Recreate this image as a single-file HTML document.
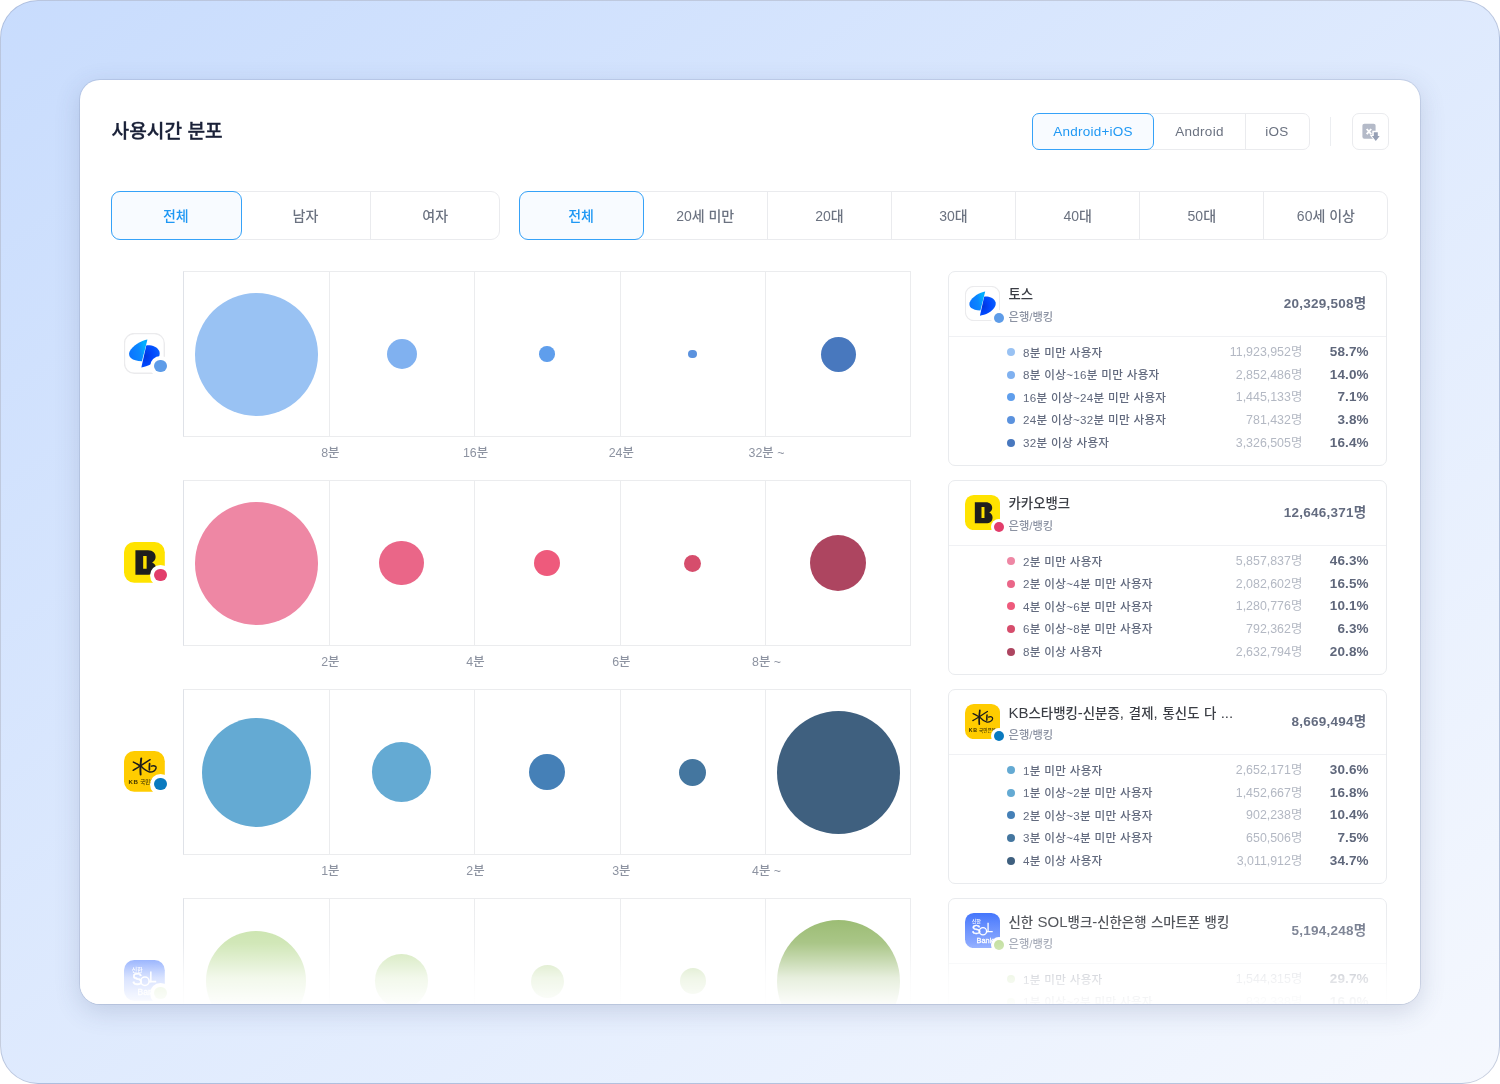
<!DOCTYPE html>
<html lang="ko"><head><meta charset="utf-8"><title>사용시간 분포</title>
<style>
html,body{margin:0;padding:0;background:#fff;}
body{width:1500px;height:1084px;overflow:hidden;position:relative;font-family:"Liberation Sans","Noto Sans CJK KR",sans-serif;}
.frame{position:absolute;left:0;top:0;width:1500px;height:1084px;box-sizing:border-box;border-radius:38px;border:1px solid rgba(140,152,185,.45);background:linear-gradient(to bottom right,#c8dcfd,#f5f8fe);}
.card{position:absolute;left:80px;top:80px;width:1340px;height:924px;border-radius:20px;background:#fff;overflow:hidden;box-shadow:0 7px 26px rgba(60,75,115,.19),0 0 0 1px rgba(140,155,190,.26);}
.inner{position:absolute;left:-80px;top:-80px;width:1500px;height:1084px;}
.b{position:absolute;display:block;}
.c{border-radius:50%;}
.t{position:absolute;white-space:nowrap;}
.l{font-size:15px;}
.fade{position:absolute;left:0;top:824px;width:1340px;height:100px;background:linear-gradient(to bottom,rgba(255,255,255,0) 0%,rgba(255,255,255,.12) 17%,rgba(255,255,255,.24) 39%,rgba(255,255,255,.5) 56%,rgba(255,255,255,.79) 74%,rgba(255,255,255,.9) 90%,rgba(255,255,255,.95) 97%,rgba(255,255,255,.97) 100%);}
</style></head><body>
<div class="frame"></div>
<div class="card"><div class="inner">
<div class="t" style="top:121.50px;height:20px;line-height:20px;font-size:19.2px;font-weight:500;color:#1a2138;left:111.50px;-webkit-text-stroke:0.3px #1a2138;">사용시간 분포</div>
<div class="b" style="left:1032.00px;top:113.00px;width:278.00px;height:37.00px;border:1px solid #eaebee;border-radius:7px;box-sizing:border-box;"></div>
<div class="b" style="left:1245.00px;top:114.00px;width:1.00px;height:35.00px;background:#eaebee;"></div>
<div class="b" style="left:1032.00px;top:113.00px;width:122.00px;height:37.00px;border:1.5px solid #36a2f8;border-radius:7px;box-sizing:border-box;background:#f8fbff;"></div>
<div class="t" style="top:121.50px;height:20px;line-height:20px;font-size:13.5px;font-weight:400;color:#1f98f4;letter-spacing:0.25px;left:1093.00px;transform:translateX(-50%);">Android+iOS</div>
<div class="t" style="top:121.50px;height:20px;line-height:20px;font-size:13.5px;font-weight:400;color:#6b7280;letter-spacing:0.25px;left:1199.50px;transform:translateX(-50%);">Android</div>
<div class="t" style="top:121.50px;height:20px;line-height:20px;font-size:13.5px;font-weight:400;color:#6b7280;letter-spacing:0.25px;left:1277.00px;transform:translateX(-50%);">iOS</div>
<div class="b" style="left:1330.00px;top:117.00px;width:1.00px;height:29.00px;background:#eceef1;"></div>
<div class="b" style="left:1352.00px;top:113.00px;width:37.00px;height:37.00px;border:1px solid #eaebee;border-radius:7px;box-sizing:border-box;"></div>
<svg class="b" style="left:1360px;top:121px" width="22" height="22" viewBox="0 0 22 22">
<rect x="2.4" y="2.8" width="13.2" height="15" rx="2" fill="#b4bac8"/>
<path d="M6.7 8 L11.2 13.2 M11.2 8 L6.7 13.2" stroke="#fff" stroke-width="1.9"/>
<path d="M12.3 9.8 H19.3 V13.8 H22 L15.8 21.6 L9.6 13.8 H12.3 Z" fill="#fff"/>
<path d="M13.8 11.2 H17.8 V15 H19.7 L15.8 20 L11.9 15 H13.8 Z" fill="#96a0b5"/>
</svg>
<div class="b" style="left:111.00px;top:191.00px;width:389.00px;height:49.00px;border:1px solid #eaebee;border-radius:9px;box-sizing:border-box;"></div>
<div class="b" style="left:370.00px;top:192.00px;width:1.00px;height:47.00px;background:#eaebee;"></div>
<div class="b" style="left:111.00px;top:191.00px;width:131.00px;height:49.00px;border:1.5px solid #36a2f8;border-radius:9px;box-sizing:border-box;background:#f8fbff;"></div>
<div class="t" style="top:205.50px;height:20px;line-height:20px;font-size:14px;font-weight:500;color:#1f98f4;left:175.83px;transform:translateX(-50%);">전체</div>
<div class="t" style="top:205.50px;height:20px;line-height:20px;font-size:14px;font-weight:500;color:#6b7280;left:305.50px;transform:translateX(-50%);">남자</div>
<div class="t" style="top:205.50px;height:20px;line-height:20px;font-size:14px;font-weight:500;color:#6b7280;left:435.17px;transform:translateX(-50%);">여자</div>
<div class="b" style="left:519.00px;top:191.00px;width:869.00px;height:49.00px;border:1px solid #eaebee;border-radius:9px;box-sizing:border-box;"></div>
<div class="b" style="left:767.00px;top:192.00px;width:1.00px;height:47.00px;background:#eaebee;"></div>
<div class="b" style="left:891.00px;top:192.00px;width:1.00px;height:47.00px;background:#eaebee;"></div>
<div class="b" style="left:1015.00px;top:192.00px;width:1.00px;height:47.00px;background:#eaebee;"></div>
<div class="b" style="left:1139.00px;top:192.00px;width:1.00px;height:47.00px;background:#eaebee;"></div>
<div class="b" style="left:1263.00px;top:192.00px;width:1.00px;height:47.00px;background:#eaebee;"></div>
<div class="b" style="left:519.00px;top:191.00px;width:125.00px;height:49.00px;border:1.5px solid #36a2f8;border-radius:9px;box-sizing:border-box;background:#f8fbff;"></div>
<div class="t" style="top:205.50px;height:20px;line-height:20px;font-size:14px;font-weight:500;color:#1f98f4;left:581.07px;transform:translateX(-50%);">전체</div>
<div class="t" style="top:205.50px;height:20px;line-height:20px;font-size:14px;font-weight:500;color:#6b7280;left:705.21px;transform:translateX(-50%);">20세 미만</div>
<div class="t" style="top:205.50px;height:20px;line-height:20px;font-size:14px;font-weight:500;color:#6b7280;left:829.36px;transform:translateX(-50%);">20대</div>
<div class="t" style="top:205.50px;height:20px;line-height:20px;font-size:14px;font-weight:500;color:#6b7280;left:953.50px;transform:translateX(-50%);">30대</div>
<div class="t" style="top:205.50px;height:20px;line-height:20px;font-size:14px;font-weight:500;color:#6b7280;left:1077.64px;transform:translateX(-50%);">40대</div>
<div class="t" style="top:205.50px;height:20px;line-height:20px;font-size:14px;font-weight:500;color:#6b7280;left:1201.79px;transform:translateX(-50%);">50대</div>
<div class="t" style="top:205.50px;height:20px;line-height:20px;font-size:14px;font-weight:500;color:#6b7280;left:1325.93px;transform:translateX(-50%);">60세 이상</div>
<svg class="b" style="left:124px;top:333px" width="40.8" height="40.8" viewBox="0 0 40 40">
<defs><linearGradient id="tg1a" x1="0" y1="0.6" x2="1" y2="0.35"><stop offset="0" stop-color="#0a74ff"/><stop offset="0.55" stop-color="#0a88ff"/><stop offset="0.88" stop-color="#00b2ff"/><stop offset="1" stop-color="#00a6ff"/></linearGradient>
<radialGradient id="tg2a" cx="0.22" cy="0.5" r="0.85"><stop offset="0" stop-color="#0036de"/><stop offset="0.45" stop-color="#0046fc"/><stop offset="1" stop-color="#0a62ff"/></radialGradient></defs>
<rect x="0.5" y="0.5" width="39" height="39" rx="9.6" fill="#fff" stroke="#ebebed" stroke-width="1.3"/>
<path d="M21.8 12.2 C26 11.6 33 13 34.8 18.5 C36 23 32 27.5 27 30.5 C23.5 32.5 19.5 33.6 17 33.8 Z" fill="url(#tg2a)"/>
<path d="M23 6.4 C17 7.2 8 12.5 5.4 18.5 C3.6 23.5 7.5 27.5 17.6 27.8 Z" fill="url(#tg1a)"/>
</svg>
<div class="b c" style="left:150.00px;top:355.50px;width:21.00px;height:21.00px;background:#fff;"></div>
<div class="b c" style="left:154.25px;top:359.75px;width:12.50px;height:12.50px;background:#5e9ce8;"></div>
<div class="b" style="left:183.00px;top:271.00px;width:728.00px;height:166.00px;border:1px solid #ebecee;border-left-color:#dfe2e8;box-sizing:border-box;"></div>
<div class="b" style="left:329.00px;top:272.00px;width:1.00px;height:164.00px;background:#ebecee;"></div>
<div class="b" style="left:474.00px;top:272.00px;width:1.00px;height:164.00px;background:#ebecee;"></div>
<div class="b" style="left:620.00px;top:272.00px;width:1.00px;height:164.00px;background:#ebecee;"></div>
<div class="b" style="left:765.00px;top:272.00px;width:1.00px;height:164.00px;background:#ebecee;"></div>
<div class="b c" style="left:194.50px;top:292.50px;width:123.00px;height:123.00px;background:#99c2f3;"></div>
<div class="b c" style="left:386.50px;top:339.00px;width:30.00px;height:30.00px;background:#80b1f0;"></div>
<div class="b c" style="left:539.25px;top:346.25px;width:15.50px;height:15.50px;background:#5f9eec;"></div>
<div class="b c" style="left:688.25px;top:349.75px;width:8.50px;height:8.50px;background:#5b92de;"></div>
<div class="b c" style="left:820.50px;top:336.50px;width:35.00px;height:35.00px;background:#4878be;"></div>
<div class="t" style="top:442.50px;height:20px;line-height:20px;font-size:12.4px;font-weight:500;color:#8d93a1;left:330.30px;transform:translateX(-50%);">8분</div>
<div class="t" style="top:442.50px;height:20px;line-height:20px;font-size:12.4px;font-weight:500;color:#8d93a1;left:475.50px;transform:translateX(-50%);">16분</div>
<div class="t" style="top:442.50px;height:20px;line-height:20px;font-size:12.4px;font-weight:500;color:#8d93a1;left:621.30px;transform:translateX(-50%);">24분</div>
<div class="t" style="top:442.50px;height:20px;line-height:20px;font-size:12.4px;font-weight:500;color:#8d93a1;left:766.50px;transform:translateX(-50%);">32분 ~</div>
<div class="b" style="left:948.00px;top:271.00px;width:438.50px;height:195.00px;border:1px solid #e9ebee;border-radius:7px;box-sizing:border-box;"></div>
<div class="b" style="left:949.00px;top:336.00px;width:436.50px;height:1.00px;background:#f0f1f4;"></div>
<svg class="b" style="left:965px;top:286.4px" width="35.1" height="35.1" viewBox="0 0 40 40">
<defs><linearGradient id="tg1b" x1="0" y1="0.6" x2="1" y2="0.35"><stop offset="0" stop-color="#0a74ff"/><stop offset="0.55" stop-color="#0a88ff"/><stop offset="0.88" stop-color="#00b2ff"/><stop offset="1" stop-color="#00a6ff"/></linearGradient>
<radialGradient id="tg2b" cx="0.22" cy="0.5" r="0.85"><stop offset="0" stop-color="#0036de"/><stop offset="0.45" stop-color="#0046fc"/><stop offset="1" stop-color="#0a62ff"/></radialGradient></defs>
<rect x="0.5" y="0.5" width="39" height="39" rx="9.6" fill="#fff" stroke="#ebebed" stroke-width="1.3"/>
<path d="M21.8 12.2 C26 11.6 33 13 34.8 18.5 C36 23 32 27.5 27 30.5 C23.5 32.5 19.5 33.6 17 33.8 Z" fill="url(#tg2b)"/>
<path d="M23 6.4 C17 7.2 8 12.5 5.4 18.5 C3.6 23.5 7.5 27.5 17.6 27.8 Z" fill="url(#tg1b)"/>
</svg>
<div class="b c" style="left:990.85px;top:309.85px;width:16.30px;height:16.30px;background:#fff;"></div>
<div class="b c" style="left:993.75px;top:312.75px;width:10.50px;height:10.50px;background:#5e9ce8;"></div>
<div class="t" style="top:285.00px;height:20px;line-height:20px;font-size:13.4px;font-weight:500;color:#3a3d44;left:1008.50px;word-spacing:0.7px;">토스</div>
<div class="t" style="top:307.00px;height:20px;line-height:20px;font-size:11.3px;font-weight:500;color:#8b92a2;left:1008.50px;">은행/뱅킹</div>
<div class="t" style="top:294.00px;height:20px;line-height:20px;font-size:13.5px;font-weight:700;color:#646c80;letter-spacing:0.25px;right:133.50px;">20,329,508명</div>
<div class="b c" style="left:1006.70px;top:348.20px;width:8.00px;height:8.00px;background:#99c2f3;"></div>
<div class="t" style="top:342.50px;height:20px;line-height:20px;font-size:11.6px;font-weight:500;color:#626a7e;letter-spacing:0.3px;left:1023.00px;">8분 미만 사용자</div>
<div class="t" style="top:342.20px;height:20px;line-height:20px;font-size:12.4px;font-weight:400;color:#b3b8c3;right:197.70px;">11,923,952명</div>
<div class="t" style="top:342.20px;height:20px;line-height:20px;font-size:13.5px;font-weight:700;color:#5f677b;letter-spacing:0.1px;right:131.40px;">58.7%</div>
<div class="b c" style="left:1006.70px;top:370.80px;width:8.00px;height:8.00px;background:#80b1f0;"></div>
<div class="t" style="top:365.10px;height:20px;line-height:20px;font-size:11.6px;font-weight:500;color:#626a7e;letter-spacing:0.3px;left:1023.00px;">8분 이상~16분 미만 사용자</div>
<div class="t" style="top:364.80px;height:20px;line-height:20px;font-size:12.4px;font-weight:400;color:#b3b8c3;right:197.70px;">2,852,486명</div>
<div class="t" style="top:364.80px;height:20px;line-height:20px;font-size:13.5px;font-weight:700;color:#5f677b;letter-spacing:0.1px;right:131.40px;">14.0%</div>
<div class="b c" style="left:1006.70px;top:393.40px;width:8.00px;height:8.00px;background:#5f9eec;"></div>
<div class="t" style="top:387.70px;height:20px;line-height:20px;font-size:11.6px;font-weight:500;color:#626a7e;letter-spacing:0.3px;left:1023.00px;">16분 이상~24분 미만 사용자</div>
<div class="t" style="top:387.40px;height:20px;line-height:20px;font-size:12.4px;font-weight:400;color:#b3b8c3;right:197.70px;">1,445,133명</div>
<div class="t" style="top:387.40px;height:20px;line-height:20px;font-size:13.5px;font-weight:700;color:#5f677b;letter-spacing:0.1px;right:131.40px;">7.1%</div>
<div class="b c" style="left:1006.70px;top:416.00px;width:8.00px;height:8.00px;background:#5b92de;"></div>
<div class="t" style="top:410.30px;height:20px;line-height:20px;font-size:11.6px;font-weight:500;color:#626a7e;letter-spacing:0.3px;left:1023.00px;">24분 이상~32분 미만 사용자</div>
<div class="t" style="top:410.00px;height:20px;line-height:20px;font-size:12.4px;font-weight:400;color:#b3b8c3;right:197.70px;">781,432명</div>
<div class="t" style="top:410.00px;height:20px;line-height:20px;font-size:13.5px;font-weight:700;color:#5f677b;letter-spacing:0.1px;right:131.40px;">3.8%</div>
<div class="b c" style="left:1006.70px;top:438.60px;width:8.00px;height:8.00px;background:#4878be;"></div>
<div class="t" style="top:432.90px;height:20px;line-height:20px;font-size:11.6px;font-weight:500;color:#626a7e;letter-spacing:0.3px;left:1023.00px;">32분 이상 사용자</div>
<div class="t" style="top:432.60px;height:20px;line-height:20px;font-size:12.4px;font-weight:400;color:#b3b8c3;right:197.70px;">3,326,505명</div>
<div class="t" style="top:432.60px;height:20px;line-height:20px;font-size:13.5px;font-weight:700;color:#5f677b;letter-spacing:0.1px;right:131.40px;">16.4%</div>
<svg class="b" style="left:124px;top:542px" width="40.8" height="40.8" viewBox="0 0 40 40">
<rect width="40" height="40" rx="10" fill="#ffe300"/>
<path d="M11.2 8.2 H23.5 C28.5 8.2 31 11.2 31 14.6 C31 17.2 29.6 19 27.6 20 C30 21 31.4 23 31.4 25.6 C31.4 29.6 28.6 32.2 24 32.2 H11.2 Z M18.8 13.8 V26.2 H22.2 V13.8 Z" fill="#1e1e1e" fill-rule="evenodd"/>
</svg>
<div class="b c" style="left:150.00px;top:564.50px;width:21.00px;height:21.00px;background:#fff;"></div>
<div class="b c" style="left:154.25px;top:568.75px;width:12.50px;height:12.50px;background:#e23d6b;"></div>
<div class="b" style="left:183.00px;top:480.00px;width:728.00px;height:166.00px;border:1px solid #ebecee;border-left-color:#dfe2e8;box-sizing:border-box;"></div>
<div class="b" style="left:329.00px;top:481.00px;width:1.00px;height:164.00px;background:#ebecee;"></div>
<div class="b" style="left:474.00px;top:481.00px;width:1.00px;height:164.00px;background:#ebecee;"></div>
<div class="b" style="left:620.00px;top:481.00px;width:1.00px;height:164.00px;background:#ebecee;"></div>
<div class="b" style="left:765.00px;top:481.00px;width:1.00px;height:164.00px;background:#ebecee;"></div>
<div class="b c" style="left:194.50px;top:501.50px;width:123.00px;height:123.00px;background:#ee87a4;"></div>
<div class="b c" style="left:379.35px;top:540.85px;width:44.30px;height:44.30px;background:#ea6688;"></div>
<div class="b c" style="left:533.80px;top:549.80px;width:26.40px;height:26.40px;background:#ee5a7c;"></div>
<div class="b c" style="left:684.00px;top:554.50px;width:17.00px;height:17.00px;background:#d64d6c;"></div>
<div class="b c" style="left:810.00px;top:535.00px;width:56.00px;height:56.00px;background:#ad4560;"></div>
<div class="t" style="top:651.50px;height:20px;line-height:20px;font-size:12.4px;font-weight:500;color:#8d93a1;left:330.30px;transform:translateX(-50%);">2분</div>
<div class="t" style="top:651.50px;height:20px;line-height:20px;font-size:12.4px;font-weight:500;color:#8d93a1;left:475.50px;transform:translateX(-50%);">4분</div>
<div class="t" style="top:651.50px;height:20px;line-height:20px;font-size:12.4px;font-weight:500;color:#8d93a1;left:621.30px;transform:translateX(-50%);">6분</div>
<div class="t" style="top:651.50px;height:20px;line-height:20px;font-size:12.4px;font-weight:500;color:#8d93a1;left:766.50px;transform:translateX(-50%);">8분 ~</div>
<div class="b" style="left:948.00px;top:480.00px;width:438.50px;height:195.00px;border:1px solid #e9ebee;border-radius:7px;box-sizing:border-box;"></div>
<div class="b" style="left:949.00px;top:545.00px;width:436.50px;height:1.00px;background:#f0f1f4;"></div>
<svg class="b" style="left:965px;top:495.4px" width="35.1" height="35.1" viewBox="0 0 40 40">
<rect width="40" height="40" rx="10" fill="#ffe300"/>
<path d="M11.2 8.2 H23.5 C28.5 8.2 31 11.2 31 14.6 C31 17.2 29.6 19 27.6 20 C30 21 31.4 23 31.4 25.6 C31.4 29.6 28.6 32.2 24 32.2 H11.2 Z M18.8 13.8 V26.2 H22.2 V13.8 Z" fill="#1e1e1e" fill-rule="evenodd"/>
</svg>
<div class="b c" style="left:990.85px;top:518.85px;width:16.30px;height:16.30px;background:#fff;"></div>
<div class="b c" style="left:993.75px;top:521.75px;width:10.50px;height:10.50px;background:#e23d6b;"></div>
<div class="t" style="top:494.00px;height:20px;line-height:20px;font-size:13.4px;font-weight:500;color:#3a3d44;left:1008.50px;word-spacing:0.7px;">카카오뱅크</div>
<div class="t" style="top:516.00px;height:20px;line-height:20px;font-size:11.3px;font-weight:500;color:#8b92a2;left:1008.50px;">은행/뱅킹</div>
<div class="t" style="top:503.00px;height:20px;line-height:20px;font-size:13.5px;font-weight:700;color:#646c80;letter-spacing:0.25px;right:133.50px;">12,646,371명</div>
<div class="b c" style="left:1006.70px;top:557.20px;width:8.00px;height:8.00px;background:#ee87a4;"></div>
<div class="t" style="top:551.50px;height:20px;line-height:20px;font-size:11.6px;font-weight:500;color:#626a7e;letter-spacing:0.3px;left:1023.00px;">2분 미만 사용자</div>
<div class="t" style="top:551.20px;height:20px;line-height:20px;font-size:12.4px;font-weight:400;color:#b3b8c3;right:197.70px;">5,857,837명</div>
<div class="t" style="top:551.20px;height:20px;line-height:20px;font-size:13.5px;font-weight:700;color:#5f677b;letter-spacing:0.1px;right:131.40px;">46.3%</div>
<div class="b c" style="left:1006.70px;top:579.80px;width:8.00px;height:8.00px;background:#ea6688;"></div>
<div class="t" style="top:574.10px;height:20px;line-height:20px;font-size:11.6px;font-weight:500;color:#626a7e;letter-spacing:0.3px;left:1023.00px;">2분 이상~4분 미만 사용자</div>
<div class="t" style="top:573.80px;height:20px;line-height:20px;font-size:12.4px;font-weight:400;color:#b3b8c3;right:197.70px;">2,082,602명</div>
<div class="t" style="top:573.80px;height:20px;line-height:20px;font-size:13.5px;font-weight:700;color:#5f677b;letter-spacing:0.1px;right:131.40px;">16.5%</div>
<div class="b c" style="left:1006.70px;top:602.40px;width:8.00px;height:8.00px;background:#ee5a7c;"></div>
<div class="t" style="top:596.70px;height:20px;line-height:20px;font-size:11.6px;font-weight:500;color:#626a7e;letter-spacing:0.3px;left:1023.00px;">4분 이상~6분 미만 사용자</div>
<div class="t" style="top:596.40px;height:20px;line-height:20px;font-size:12.4px;font-weight:400;color:#b3b8c3;right:197.70px;">1,280,776명</div>
<div class="t" style="top:596.40px;height:20px;line-height:20px;font-size:13.5px;font-weight:700;color:#5f677b;letter-spacing:0.1px;right:131.40px;">10.1%</div>
<div class="b c" style="left:1006.70px;top:625.00px;width:8.00px;height:8.00px;background:#d64d6c;"></div>
<div class="t" style="top:619.30px;height:20px;line-height:20px;font-size:11.6px;font-weight:500;color:#626a7e;letter-spacing:0.3px;left:1023.00px;">6분 이상~8분 미만 사용자</div>
<div class="t" style="top:619.00px;height:20px;line-height:20px;font-size:12.4px;font-weight:400;color:#b3b8c3;right:197.70px;">792,362명</div>
<div class="t" style="top:619.00px;height:20px;line-height:20px;font-size:13.5px;font-weight:700;color:#5f677b;letter-spacing:0.1px;right:131.40px;">6.3%</div>
<div class="b c" style="left:1006.70px;top:647.60px;width:8.00px;height:8.00px;background:#ad4560;"></div>
<div class="t" style="top:641.90px;height:20px;line-height:20px;font-size:11.6px;font-weight:500;color:#626a7e;letter-spacing:0.3px;left:1023.00px;">8분 이상 사용자</div>
<div class="t" style="top:641.60px;height:20px;line-height:20px;font-size:12.4px;font-weight:400;color:#b3b8c3;right:197.70px;">2,632,794명</div>
<div class="t" style="top:641.60px;height:20px;line-height:20px;font-size:13.5px;font-weight:700;color:#5f677b;letter-spacing:0.1px;right:131.40px;">20.8%</div>
<svg class="b" style="left:124px;top:751px" width="40.8" height="40.8" viewBox="0 0 40 40">
<rect width="40" height="40" rx="10" fill="#ffcc00"/>
<g stroke="#1c1c1c" stroke-linecap="round" stroke-linejoin="round" fill="none">
<path d="M16.9 7.3 C16.3 12 15.8 18 16.3 23" stroke-width="1.9"/>
<path d="M9.2 10.9 C12 12.2 14.6 13.8 16.4 14.8" stroke-width="1.5"/>
<path d="M8.9 18.9 C13 16.8 20 12 25.6 8.5" stroke-width="1.4"/>
<path d="M16.6 14.8 C18.6 17 21.6 19.8 25 20.6 C28.2 21 31.2 19 31.5 16.6 C31.7 14.6 29.2 14 26.8 14.9" stroke-width="1.4"/>
<path d="M25.1 12.4 C24.9 14.4 24.8 16.4 24.9 18.4" stroke-width="1.7"/>
</g>
<text x="4.3" y="32" font-family='"Liberation Sans","Noto Sans CJK KR",sans-serif' font-size="6" font-weight="700" fill="#3d3200" letter-spacing="0.7">KB</text>
<text x="16" y="32" font-family='"Liberation Sans","Noto Sans CJK KR",sans-serif' font-size="5.2" font-weight="500" fill="#3d3200">국민은행</text>
</svg>
<div class="b c" style="left:150.00px;top:773.50px;width:21.00px;height:21.00px;background:#fff;"></div>
<div class="b c" style="left:154.25px;top:777.75px;width:12.50px;height:12.50px;background:#0a7abf;"></div>
<div class="b" style="left:183.00px;top:689.00px;width:728.00px;height:166.00px;border:1px solid #ebecee;border-left-color:#dfe2e8;box-sizing:border-box;"></div>
<div class="b" style="left:329.00px;top:690.00px;width:1.00px;height:164.00px;background:#ebecee;"></div>
<div class="b" style="left:474.00px;top:690.00px;width:1.00px;height:164.00px;background:#ebecee;"></div>
<div class="b" style="left:620.00px;top:690.00px;width:1.00px;height:164.00px;background:#ebecee;"></div>
<div class="b" style="left:765.00px;top:690.00px;width:1.00px;height:164.00px;background:#ebecee;"></div>
<div class="b c" style="left:201.50px;top:717.50px;width:109.00px;height:109.00px;background:#64aad3;"></div>
<div class="b c" style="left:371.75px;top:742.25px;width:59.50px;height:59.50px;background:#64aad3;"></div>
<div class="b c" style="left:528.60px;top:753.60px;width:36.80px;height:36.80px;background:#4580b7;"></div>
<div class="b c" style="left:679.00px;top:758.50px;width:27.00px;height:27.00px;background:#44769f;"></div>
<div class="b c" style="left:776.50px;top:710.50px;width:123.00px;height:123.00px;background:#3f607f;"></div>
<div class="t" style="top:860.50px;height:20px;line-height:20px;font-size:12.4px;font-weight:500;color:#8d93a1;left:330.30px;transform:translateX(-50%);">1분</div>
<div class="t" style="top:860.50px;height:20px;line-height:20px;font-size:12.4px;font-weight:500;color:#8d93a1;left:475.50px;transform:translateX(-50%);">2분</div>
<div class="t" style="top:860.50px;height:20px;line-height:20px;font-size:12.4px;font-weight:500;color:#8d93a1;left:621.30px;transform:translateX(-50%);">3분</div>
<div class="t" style="top:860.50px;height:20px;line-height:20px;font-size:12.4px;font-weight:500;color:#8d93a1;left:766.50px;transform:translateX(-50%);">4분 ~</div>
<div class="b" style="left:948.00px;top:689.00px;width:438.50px;height:195.00px;border:1px solid #e9ebee;border-radius:7px;box-sizing:border-box;"></div>
<div class="b" style="left:949.00px;top:754.00px;width:436.50px;height:1.00px;background:#f0f1f4;"></div>
<svg class="b" style="left:965px;top:704.4px" width="35.1" height="35.1" viewBox="0 0 40 40">
<rect width="40" height="40" rx="10" fill="#ffcc00"/>
<g stroke="#1c1c1c" stroke-linecap="round" stroke-linejoin="round" fill="none">
<path d="M16.9 7.3 C16.3 12 15.8 18 16.3 23" stroke-width="1.9"/>
<path d="M9.2 10.9 C12 12.2 14.6 13.8 16.4 14.8" stroke-width="1.5"/>
<path d="M8.9 18.9 C13 16.8 20 12 25.6 8.5" stroke-width="1.4"/>
<path d="M16.6 14.8 C18.6 17 21.6 19.8 25 20.6 C28.2 21 31.2 19 31.5 16.6 C31.7 14.6 29.2 14 26.8 14.9" stroke-width="1.4"/>
<path d="M25.1 12.4 C24.9 14.4 24.8 16.4 24.9 18.4" stroke-width="1.7"/>
</g>
<text x="4.3" y="32" font-family='"Liberation Sans","Noto Sans CJK KR",sans-serif' font-size="6" font-weight="700" fill="#3d3200" letter-spacing="0.7">KB</text>
<text x="16" y="32" font-family='"Liberation Sans","Noto Sans CJK KR",sans-serif' font-size="5.2" font-weight="500" fill="#3d3200">국민은행</text>
</svg>
<div class="b c" style="left:990.85px;top:727.85px;width:16.30px;height:16.30px;background:#fff;"></div>
<div class="b c" style="left:993.75px;top:730.75px;width:10.50px;height:10.50px;background:#0a7abf;"></div>
<div class="t" style="top:703.00px;height:20px;line-height:20px;font-size:13.4px;font-weight:500;color:#3a3d44;left:1008.50px;word-spacing:0.7px;"><span class="l">KB</span>스타뱅킹<span class="l">-</span>신분증<span class="l">, </span>결제<span class="l">, </span>통신도 다 <span class="l">...</span></div>
<div class="t" style="top:725.00px;height:20px;line-height:20px;font-size:11.3px;font-weight:500;color:#8b92a2;left:1008.50px;">은행/뱅킹</div>
<div class="t" style="top:712.00px;height:20px;line-height:20px;font-size:13.5px;font-weight:700;color:#646c80;letter-spacing:0.25px;right:133.50px;">8,669,494명</div>
<div class="b c" style="left:1006.70px;top:766.20px;width:8.00px;height:8.00px;background:#64aad3;"></div>
<div class="t" style="top:760.50px;height:20px;line-height:20px;font-size:11.6px;font-weight:500;color:#626a7e;letter-spacing:0.3px;left:1023.00px;">1분 미만 사용자</div>
<div class="t" style="top:760.20px;height:20px;line-height:20px;font-size:12.4px;font-weight:400;color:#b3b8c3;right:197.70px;">2,652,171명</div>
<div class="t" style="top:760.20px;height:20px;line-height:20px;font-size:13.5px;font-weight:700;color:#5f677b;letter-spacing:0.1px;right:131.40px;">30.6%</div>
<div class="b c" style="left:1006.70px;top:788.80px;width:8.00px;height:8.00px;background:#64aad3;"></div>
<div class="t" style="top:783.10px;height:20px;line-height:20px;font-size:11.6px;font-weight:500;color:#626a7e;letter-spacing:0.3px;left:1023.00px;">1분 이상~2분 미만 사용자</div>
<div class="t" style="top:782.80px;height:20px;line-height:20px;font-size:12.4px;font-weight:400;color:#b3b8c3;right:197.70px;">1,452,667명</div>
<div class="t" style="top:782.80px;height:20px;line-height:20px;font-size:13.5px;font-weight:700;color:#5f677b;letter-spacing:0.1px;right:131.40px;">16.8%</div>
<div class="b c" style="left:1006.70px;top:811.40px;width:8.00px;height:8.00px;background:#4580b7;"></div>
<div class="t" style="top:805.70px;height:20px;line-height:20px;font-size:11.6px;font-weight:500;color:#626a7e;letter-spacing:0.3px;left:1023.00px;">2분 이상~3분 미만 사용자</div>
<div class="t" style="top:805.40px;height:20px;line-height:20px;font-size:12.4px;font-weight:400;color:#b3b8c3;right:197.70px;">902,238명</div>
<div class="t" style="top:805.40px;height:20px;line-height:20px;font-size:13.5px;font-weight:700;color:#5f677b;letter-spacing:0.1px;right:131.40px;">10.4%</div>
<div class="b c" style="left:1006.70px;top:834.00px;width:8.00px;height:8.00px;background:#44769f;"></div>
<div class="t" style="top:828.30px;height:20px;line-height:20px;font-size:11.6px;font-weight:500;color:#626a7e;letter-spacing:0.3px;left:1023.00px;">3분 이상~4분 미만 사용자</div>
<div class="t" style="top:828.00px;height:20px;line-height:20px;font-size:12.4px;font-weight:400;color:#b3b8c3;right:197.70px;">650,506명</div>
<div class="t" style="top:828.00px;height:20px;line-height:20px;font-size:13.5px;font-weight:700;color:#5f677b;letter-spacing:0.1px;right:131.40px;">7.5%</div>
<div class="b c" style="left:1006.70px;top:856.60px;width:8.00px;height:8.00px;background:#3f607f;"></div>
<div class="t" style="top:850.90px;height:20px;line-height:20px;font-size:11.6px;font-weight:500;color:#626a7e;letter-spacing:0.3px;left:1023.00px;">4분 이상 사용자</div>
<div class="t" style="top:850.60px;height:20px;line-height:20px;font-size:12.4px;font-weight:400;color:#b3b8c3;right:197.70px;">3,011,912명</div>
<div class="t" style="top:850.60px;height:20px;line-height:20px;font-size:13.5px;font-weight:700;color:#5f677b;letter-spacing:0.1px;right:131.40px;">34.7%</div>
<svg class="b" style="left:124px;top:960px" width="40.8" height="40.8" viewBox="0 0 40 40">
<defs><linearGradient id="sga" x1="0" y1="0" x2="0" y2="1"><stop offset="0" stop-color="#376cfc"/><stop offset="1" stop-color="#6a90ff"/></linearGradient></defs>
<rect width="40" height="40" rx="10" fill="url(#sga)"/>
<text x="7.6" y="11.4" font-family='"Liberation Sans","Noto Sans CJK KR",sans-serif' font-size="5.8" font-weight="500" fill="#fff">신한</text>
<text x="7.8" y="24.4" font-family='"Liberation Sans","Noto Sans CJK KR",sans-serif' font-size="15.4" font-weight="400" fill="#fff" stroke="#fff" stroke-width="0.45">S</text>
<circle cx="20.5" cy="20.8" r="4.1" fill="none" stroke="#fff" stroke-width="1.5"/>
<path d="M26.3 11.2 V21.2 H31.6" fill="none" stroke="#fff" stroke-width="1.5"/>
<path d="M24.6 21.2 H26.3" fill="none" stroke="#fff" stroke-width="1.5"/>
<text x="13.2" y="34" font-family='"Liberation Sans","Noto Sans CJK KR",sans-serif' font-size="8.4" font-weight="400" fill="#fff" stroke="#fff" stroke-width="0.3">Bank</text>
</svg>
<div class="b c" style="left:150.00px;top:982.50px;width:21.00px;height:21.00px;background:#fff;"></div>
<div class="b c" style="left:154.25px;top:986.75px;width:12.50px;height:12.50px;background:#b5d88a;"></div>
<div class="b" style="left:183.00px;top:898.00px;width:728.00px;height:166.00px;border:1px solid #ebecee;border-left-color:#dfe2e8;box-sizing:border-box;"></div>
<div class="b" style="left:329.00px;top:899.00px;width:1.00px;height:164.00px;background:#ebecee;"></div>
<div class="b" style="left:474.00px;top:899.00px;width:1.00px;height:164.00px;background:#ebecee;"></div>
<div class="b" style="left:620.00px;top:899.00px;width:1.00px;height:164.00px;background:#ebecee;"></div>
<div class="b" style="left:765.00px;top:899.00px;width:1.00px;height:164.00px;background:#ebecee;"></div>
<div class="b c" style="left:206.00px;top:931.00px;width:100.00px;height:100.00px;background:#c3e0a2;"></div>
<div class="b c" style="left:374.85px;top:954.35px;width:53.30px;height:53.30px;background:#c3e0a2;"></div>
<div class="b c" style="left:530.50px;top:964.50px;width:33.00px;height:33.00px;background:#bcd999;"></div>
<div class="b c" style="left:679.50px;top:968.00px;width:26.00px;height:26.00px;background:#b8d694;"></div>
<div class="b c" style="left:776.50px;top:919.50px;width:123.00px;height:123.00px;background:#8fb462;"></div>
<div class="t" style="top:1069.50px;height:20px;line-height:20px;font-size:12.4px;font-weight:500;color:#8d93a1;left:330.30px;transform:translateX(-50%);">1분</div>
<div class="t" style="top:1069.50px;height:20px;line-height:20px;font-size:12.4px;font-weight:500;color:#8d93a1;left:475.50px;transform:translateX(-50%);">2분</div>
<div class="t" style="top:1069.50px;height:20px;line-height:20px;font-size:12.4px;font-weight:500;color:#8d93a1;left:621.30px;transform:translateX(-50%);">3분</div>
<div class="t" style="top:1069.50px;height:20px;line-height:20px;font-size:12.4px;font-weight:500;color:#8d93a1;left:766.50px;transform:translateX(-50%);">4분 ~</div>
<div class="b" style="left:948.00px;top:898.00px;width:438.50px;height:195.00px;border:1px solid #e9ebee;border-radius:7px;box-sizing:border-box;"></div>
<div class="b" style="left:949.00px;top:963.00px;width:436.50px;height:1.00px;background:#f0f1f4;"></div>
<svg class="b" style="left:965px;top:913.4px" width="35.1" height="35.1" viewBox="0 0 40 40">
<defs><linearGradient id="sgb" x1="0" y1="0" x2="0" y2="1"><stop offset="0" stop-color="#376cfc"/><stop offset="1" stop-color="#6a90ff"/></linearGradient></defs>
<rect width="40" height="40" rx="10" fill="url(#sgb)"/>
<text x="7.6" y="11.4" font-family='"Liberation Sans","Noto Sans CJK KR",sans-serif' font-size="5.8" font-weight="500" fill="#fff">신한</text>
<text x="7.8" y="24.4" font-family='"Liberation Sans","Noto Sans CJK KR",sans-serif' font-size="15.4" font-weight="400" fill="#fff" stroke="#fff" stroke-width="0.45">S</text>
<circle cx="20.5" cy="20.8" r="4.1" fill="none" stroke="#fff" stroke-width="1.5"/>
<path d="M26.3 11.2 V21.2 H31.6" fill="none" stroke="#fff" stroke-width="1.5"/>
<path d="M24.6 21.2 H26.3" fill="none" stroke="#fff" stroke-width="1.5"/>
<text x="13.2" y="34" font-family='"Liberation Sans","Noto Sans CJK KR",sans-serif' font-size="8.4" font-weight="400" fill="#fff" stroke="#fff" stroke-width="0.3">Bank</text>
</svg>
<div class="b c" style="left:990.85px;top:936.85px;width:16.30px;height:16.30px;background:#fff;"></div>
<div class="b c" style="left:993.75px;top:939.75px;width:10.50px;height:10.50px;background:#b5d88a;"></div>
<div class="t" style="top:912.00px;height:20px;line-height:20px;font-size:13.4px;font-weight:500;color:#3a3d44;left:1008.50px;word-spacing:0.7px;">신한 <span class="l">SOL</span>뱅크<span class="l">-</span>신한은행 스마트폰 뱅킹</div>
<div class="t" style="top:934.00px;height:20px;line-height:20px;font-size:11.3px;font-weight:500;color:#8b92a2;left:1008.50px;">은행/뱅킹</div>
<div class="t" style="top:921.00px;height:20px;line-height:20px;font-size:13.5px;font-weight:700;color:#646c80;letter-spacing:0.25px;right:133.50px;">5,194,248명</div>
<div class="b c" style="left:1006.70px;top:975.20px;width:8.00px;height:8.00px;background:#c3e0a2;"></div>
<div class="t" style="top:969.50px;height:20px;line-height:20px;font-size:11.6px;font-weight:500;color:#626a7e;letter-spacing:0.3px;left:1023.00px;">1분 미만 사용자</div>
<div class="t" style="top:969.20px;height:20px;line-height:20px;font-size:12.4px;font-weight:400;color:#b3b8c3;right:197.70px;">1,544,315명</div>
<div class="t" style="top:969.20px;height:20px;line-height:20px;font-size:13.5px;font-weight:700;color:#5f677b;letter-spacing:0.1px;right:131.40px;">29.7%</div>
<div class="b c" style="left:1006.70px;top:997.80px;width:8.00px;height:8.00px;background:#c3e0a2;"></div>
<div class="t" style="top:992.10px;height:20px;line-height:20px;font-size:11.6px;font-weight:500;color:#626a7e;letter-spacing:0.3px;left:1023.00px;">1분 이상~2분 미만 사용자</div>
<div class="t" style="top:991.80px;height:20px;line-height:20px;font-size:12.4px;font-weight:400;color:#b3b8c3;right:197.70px;">832,338명</div>
<div class="t" style="top:991.80px;height:20px;line-height:20px;font-size:13.5px;font-weight:700;color:#5f677b;letter-spacing:0.1px;right:131.40px;">16.0%</div>
<div class="b c" style="left:1006.70px;top:1020.40px;width:8.00px;height:8.00px;background:#bcd999;"></div>
<div class="t" style="top:1014.70px;height:20px;line-height:20px;font-size:11.6px;font-weight:500;color:#626a7e;letter-spacing:0.3px;left:1023.00px;">2분 이상~3분 미만 사용자</div>
<div class="t" style="top:1014.40px;height:20px;line-height:20px;font-size:12.4px;font-weight:400;color:#b3b8c3;right:197.70px;">540,201명</div>
<div class="t" style="top:1014.40px;height:20px;line-height:20px;font-size:13.5px;font-weight:700;color:#5f677b;letter-spacing:0.1px;right:131.40px;">10.4%</div>
<div class="b c" style="left:1006.70px;top:1043.00px;width:8.00px;height:8.00px;background:#b8d694;"></div>
<div class="t" style="top:1037.30px;height:20px;line-height:20px;font-size:11.6px;font-weight:500;color:#626a7e;letter-spacing:0.3px;left:1023.00px;">3분 이상~4분 미만 사용자</div>
<div class="t" style="top:1037.00px;height:20px;line-height:20px;font-size:12.4px;font-weight:400;color:#b3b8c3;right:197.70px;">415,540명</div>
<div class="t" style="top:1037.00px;height:20px;line-height:20px;font-size:13.5px;font-weight:700;color:#5f677b;letter-spacing:0.1px;right:131.40px;">8.0%</div>
<div class="b c" style="left:1006.70px;top:1065.60px;width:8.00px;height:8.00px;background:#8fb462;"></div>
<div class="t" style="top:1059.90px;height:20px;line-height:20px;font-size:11.6px;font-weight:500;color:#626a7e;letter-spacing:0.3px;left:1023.00px;">4분 이상 사용자</div>
<div class="t" style="top:1059.60px;height:20px;line-height:20px;font-size:12.4px;font-weight:400;color:#b3b8c3;right:197.70px;">1,861,854명</div>
<div class="t" style="top:1059.60px;height:20px;line-height:20px;font-size:13.5px;font-weight:700;color:#5f677b;letter-spacing:0.1px;right:131.40px;">35.9%</div>
</div><div class="fade"></div></div>
</body></html>
